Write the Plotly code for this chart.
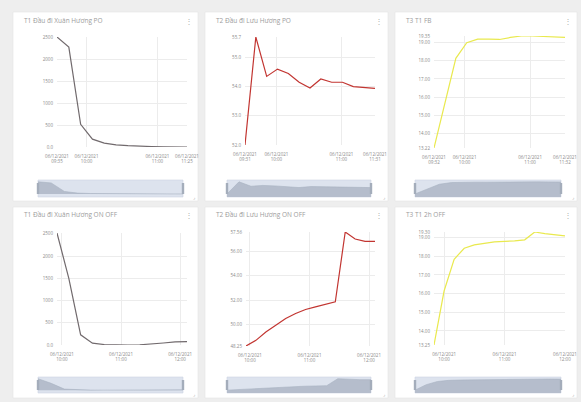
import plotly.graph_objects as go
import pandas as pd

DATE = "2021-12-06"
DATE_LABEL = "06/12/2021"

# ---------------- data ----------------
p1_title = "T1 Đầu đi Xuân Hương PO"
p1_times = ["09:35", "09:45", "09:55", "10:05", "10:15", "10:25", "10:35", "10:45", "10:55", "11:05", "11:15", "11:25"]
p1_values = [2520, 2290, 520, 180, 90, 50, 30, 15, 10, 5, 3, 0]
p1_xticks = ["09:35", "10:00", "11:00", "11:25"]
p1_yticks = [0, 500, 1000, 1500, 2000, 2500]
p1_yticktext = ["0.0", "500", "1000", "1500", "2000", "2500"]

p2_title = "T2 Đầu đi Lưu Hương PO"
p2_times = ["09:31", "09:41", "09:51", "10:01", "10:11", "10:21", "10:31", "10:41", "10:51", "11:01", "11:11", "11:21", "11:31"]
p2_values = [52.0, 55.7, 54.35, 54.6, 54.45, 54.15, 53.95, 54.26, 54.15, 54.15, 54.0, 53.97, 53.94]
p2_xticks = ["09:31", "10:00", "11:00", "11:31"]
p2_yticks = [52.0, 53.0, 54.0, 55.0, 55.7]
p2_yticktext = ["52.0", "53.0", "54.0", "55.0", "55.7"]

p3_title = "T3 T1 FB"
p3_times = ["09:32", "09:42", "09:52", "10:02", "10:12", "10:22", "10:32", "10:42", "10:52", "11:02", "11:12", "11:22", "11:32"]
p3_values = [13.22, 15.67, 18.13, 18.98, 19.18, 19.18, 19.16, 19.27, 19.35, 19.35, 19.33, 19.31, 19.27]
p3_xticks = ["09:32", "10:00", "11:00", "11:32"]
p3_yticks = [13.22, 14, 15, 16, 17, 18, 19, 19.35]
p3_yticktext = ["13.22", "14.00", "15.00", "16.00", "17.00", "18.00", "19.00", "19.35"]

p4_title = "T1 Đầu đi Xuân Hương ON OFF"
p4_times = ["09:55", "10:07", "10:19", "10:31", "10:43", "10:55", "11:07", "11:19", "11:31", "11:43", "11:55", "12:07"]
p4_values = [2520, 1500, 230, 40, 10, 0, 0, 5, 20, 45, 70, 75]
p4_xticks = ["10:00", "11:00", "12:00"]
p4_yticks = [0, 500, 1000, 1500, 2000, 2500]
p4_yticktext = ["0.0", "500", "1000", "1500", "2000", "2500"]

p5_title = "T2 Đầu đi Lưu Hương ON OFF"
p5_times = ["09:56", "10:06", "10:16", "10:26", "10:36", "10:46", "10:56", "11:06", "11:16", "11:26", "11:36", "11:46", "11:56", "12:06"]
p5_values = [48.25, 48.71, 49.40, 49.95, 50.49, 50.90, 51.23, 51.45, 51.67, 51.86, 57.56, 56.99, 56.79, 56.79]
p5_xticks = ["10:00", "11:00", "12:00"]
p5_yticks = [48.25, 50, 52, 54, 56, 57.56]
p5_yticktext = ["48.25", "50.00", "52.00", "54.00", "56.00", "57.56"]

p6_title = "T3 T1 2h OFF"
p6_times = ["09:50", "10:00", "10:10", "10:20", "10:30", "10:40", "10:50", "11:00", "11:10", "11:20", "11:30", "11:40", "11:50", "12:00"]
p6_values = [13.25, 16.14, 17.84, 18.43, 18.61, 18.70, 18.77, 18.80, 18.82, 18.88, 19.30, 19.21, 19.14, 19.09]
p6_xticks = ["10:00", "11:00", "12:00"]
p6_yticks = [13.25, 14, 15, 16, 17, 18, 19, 19.30]
p6_yticktext = ["13.25", "14.00", "15.00", "16.00", "17.00", "18.00", "19.00", "19.30"]

# ---------------- style / layout ----------------
GRAY = "#716a6d"
RED = "#c23531"
YELLOW = "#e9e94e"
W, H = 581, 402
FONT = "Open Sans"


def px(x):
    return x / W


def py(y):
    return 1 - y / H


def ts(t):
    return pd.Timestamp(f"{DATE} {t}")


panels = [
    dict(title=p1_title, times=p1_times, values=p1_values, xt=p1_xticks, yt=p1_yticks, ytt=p1_yticktext,
         color=GRAY, card=(13, 12, 198, 201), plot=(57, 37, 187, 147), nav=(38, 180, 183, 197)),
    dict(title=p2_title, times=p2_times, values=p2_values, xt=p2_xticks, yt=p2_yticks, ytt=p2_yticktext,
         color=RED, card=(205, 12, 388, 201), plot=(245, 37, 375, 145), nav=(227, 180, 371, 197)),
    dict(title=p3_title, times=p3_times, values=p3_values, xt=p3_xticks, yt=p3_yticks, ytt=p3_yticktext,
         color=YELLOW, card=(395, 12, 577, 201), plot=(434, 36, 565, 148), nav=(415, 180, 561, 197)),
    dict(title=p4_title, times=p4_times, values=p4_values, xt=p4_xticks, yt=p4_yticks, ytt=p4_yticktext,
         color=GRAY, card=(13, 207, 198, 398), plot=(57, 233, 187, 345), nav=(38, 377, 183, 393)),
    dict(title=p5_title, times=p5_times, values=p5_values, xt=p5_xticks, yt=p5_yticks, ytt=p5_yticktext,
         color=RED, card=(205, 207, 388, 398), plot=(246, 232, 375, 346), nav=(227, 377, 371, 393)),
    dict(title=p6_title, times=p6_times, values=p6_values, xt=p6_xticks, yt=p6_yticks, ytt=p6_yticktext,
         color=YELLOW, card=(395, 207, 577, 398), plot=(434, 232, 565, 345), nav=(415, 377, 561, 393)),
]

fig = go.Figure()
layout = {}
shapes = []
annotations = []
n_pan = len(panels)

for i, p in enumerate(panels):
    n = i + 1
    m = i + 1 + n_pan
    xs = [ts(t) for t in p["times"]]
    vmin, vmax = min(p["values"]), max(p["values"])
    span = vmax - vmin

    # card
    cl, ct, cr, cb = p["card"]
    shapes.append(dict(type="rect", xref="paper", yref="paper", x0=px(cl), x1=px(cr), y0=py(cb), y1=py(ct),
                       fillcolor="white", line=dict(color="#e4e4e4", width=0.6), layer="below"))
    annotations.append(dict(text=p["title"], xref="paper", yref="paper", x=px(cl + 9), y=py(ct + 8),
                            xanchor="left", yanchor="middle", showarrow=False,
                            font=dict(size=6.5, color="#9c9c9c", family=FONT)))
    annotations.append(dict(text="⋮", xref="paper", yref="paper", x=px(cr - 3), y=py(ct + 8),
                            xanchor="right", yanchor="middle", showarrow=False,
                            font=dict(size=8, color="#b0b0b0", family=FONT)))

    # main line
    fig.add_trace(go.Scatter(x=xs, y=p["values"], mode="lines", line=dict(color=p["color"], width=1.2),
                             xaxis=f"x{n}", yaxis=f"y{n}", showlegend=False, hoverinfo="x+y"))
    l, t, r, b = p["plot"]
    xkey = "xaxis" if n == 1 else f"xaxis{n}"
    ykey = "yaxis" if n == 1 else f"yaxis{n}"
    layout[xkey] = dict(domain=[px(l), px(r)], anchor=f"y{n}", type="date", range=[xs[0], xs[-1]],
                        tickvals=[ts(v) for v in p["xt"]],
                        ticktext=[f"{DATE_LABEL}<br>{v}" for v in p["xt"]],
                        tickangle=0, automargin=False, ticklabelstandoff=5,
                        showgrid=True, gridcolor="#ececec", gridwidth=0.6, zeroline=False, showline=False,
                        ticks="", tickfont=dict(size=4.5, color="#8a8a8a", family=FONT), fixedrange=True)
    layout[ykey] = dict(domain=[py(b), py(t)], anchor=f"x{n}", range=[vmin, vmax],
                        tickvals=p["yt"], ticktext=p["ytt"], automargin=False, ticklabelstandoff=3,
                        showgrid=True, gridcolor="#ececec", gridwidth=0.6, zeroline=False, showline=False,
                        ticks="", tickfont=dict(size=4.5, color="#8a8a8a", family=FONT), fixedrange=True)

    # navigator (data zoom slider)
    nl, nt, nr, nb = p["nav"]
    shapes.append(dict(type="rect", xref="paper", yref="paper", x0=px(nl), x1=px(nr), y0=py(nb), y1=py(nt),
                       fillcolor="#dde3ee", line=dict(color="#cdd5e3", width=0.6), layer="below"))
    fig.add_trace(go.Scatter(x=xs, y=p["values"], mode="lines", fill="tozeroy",
                             line=dict(color="#a8b1c1", width=0.6), fillcolor="#b5bdcc",
                             xaxis=f"x{m}", yaxis=f"y{m}", showlegend=False, hoverinfo="skip"))
    layout[f"xaxis{m}"] = dict(domain=[px(nl), px(nr)], anchor=f"y{m}", type="date", range=[xs[0], xs[-1]],
                               visible=False, fixedrange=True, automargin=False)
    layout[f"yaxis{m}"] = dict(domain=[py(nb), py(nt)], anchor=f"x{m}",
                               range=[vmin - 0.25 * span, vmax + 0.15 * span], visible=False,
                               fixedrange=True, automargin=False)
    # handles
    for hx in (nl, nr):
        shapes.append(dict(type="rect", xref="paper", yref="paper", x0=px(hx - 1.2), x1=px(hx + 1.2),
                           y0=py(nb - 3), y1=py(nt + 3), fillcolor="#a4adbb", line=dict(width=0), layer="above"))
    # corner resize marker
    annotations.append(dict(text="⌟", xref="paper", yref="paper", x=px(cr - 1), y=py(cb - 4),
                            xanchor="right", yanchor="middle", showarrow=False,
                            font=dict(size=5, color="#9a9a9a", family=FONT)))

fig.update_layout(
    template="none",
    width=W, height=H, margin=dict(l=0, r=0, t=0, b=0, pad=0),
    paper_bgcolor="#eeeeee", plot_bgcolor="rgba(0,0,0,0)",
    shapes=shapes, annotations=annotations, showlegend=False,
    font=dict(family=FONT),
    **layout,
)

fig.write_html(
    "out.html",
    config={"displayModeBar": False},
    post_script="document.body.style.margin='0';document.body.style.overflow='hidden';",
)
